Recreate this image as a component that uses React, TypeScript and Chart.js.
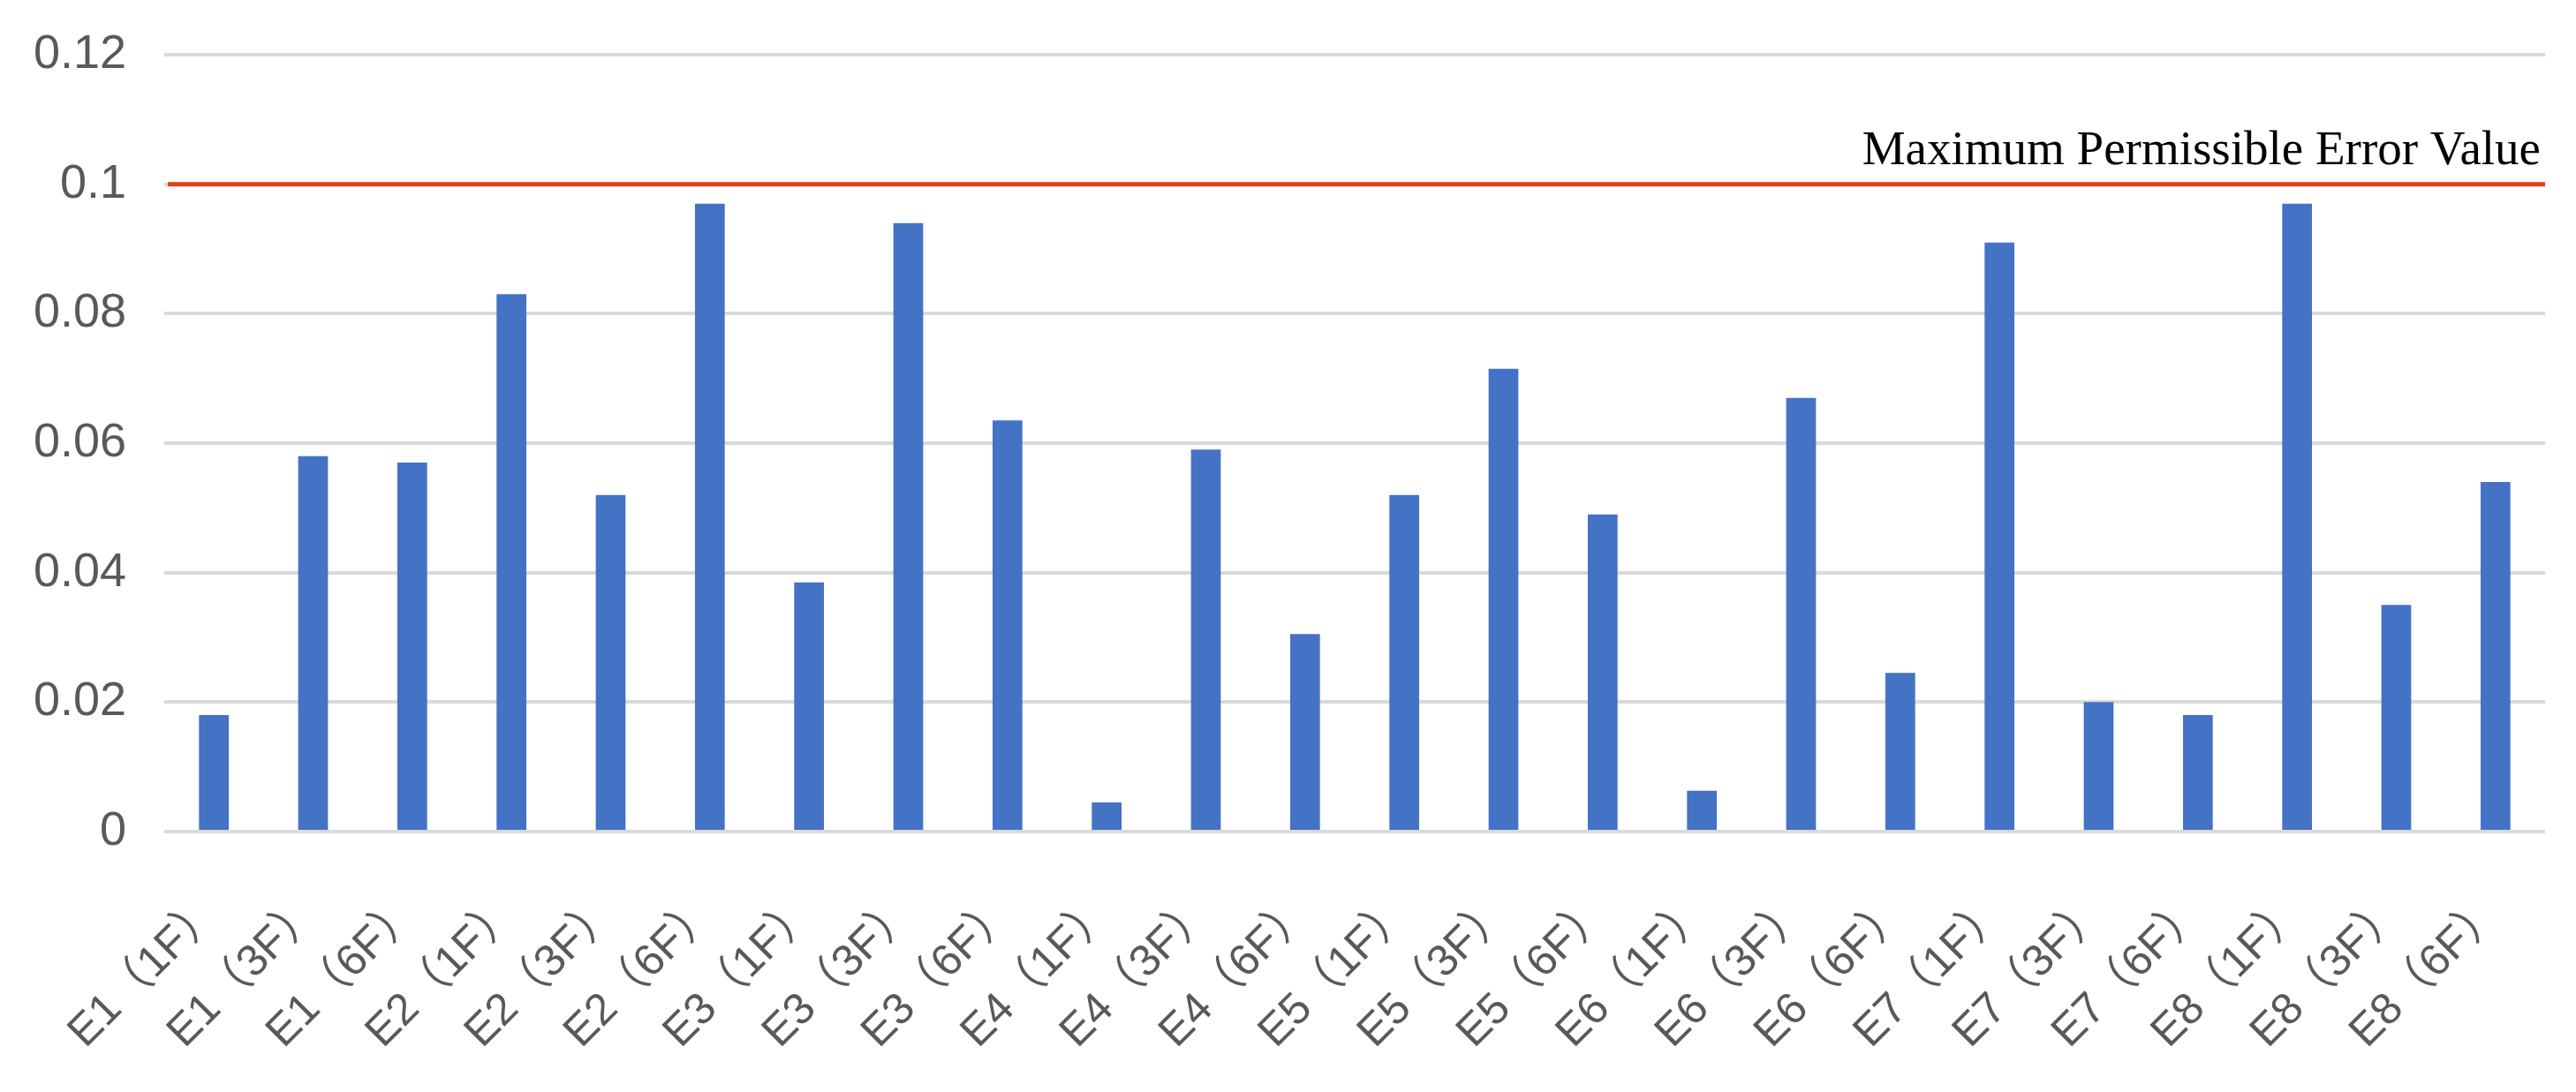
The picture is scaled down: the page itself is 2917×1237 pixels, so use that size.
import React, { useEffect, useRef } from "react";
import { Chart, registerables } from "chart.js";

Chart.register(...registerables);

const categories = [
  "E1（1F）", "E1（3F）", "E1（6F）",
  "E2（1F）", "E2（3F）", "E2（6F）",
  "E3（1F）", "E3（3F）", "E3（6F）",
  "E4（1F）", "E4（3F）", "E4（6F）",
  "E5（1F）", "E5（3F）", "E5（6F）",
  "E6（1F）", "E6（3F）", "E6（6F）",
  "E7（1F）", "E7（3F）", "E7（6F）",
  "E8（1F）", "E8（3F）", "E8（6F）",
];

const errorValues = [
  0.018, 0.058, 0.057,
  0.083, 0.052, 0.097,
  0.0385, 0.094, 0.0635,
  0.0045, 0.059, 0.0305,
  0.052, 0.0715, 0.049,
  0.0063, 0.067, 0.0245,
  0.091, 0.02, 0.018,
  0.097, 0.035, 0.054,
];

const maxPermissibleError = 0.1;
const thresholdLabel = "Maximum Permissible Error Value";
const yMin = 0;
const yMax = 0.12;
const yStep = 0.02;

const thresholdPlugin = {
  id: "thresholdLine",
  afterDatasetsDraw(chart: any) {
    const { ctx, chartArea, scales } = chart;
    const py = scales.y.getPixelForValue(maxPermissibleError);
    ctx.save();
    ctx.strokeStyle = "#DD4411";
    ctx.lineWidth = 5;
    ctx.beginPath();
    ctx.moveTo(chartArea.left + 4, py);
    ctx.lineTo(chartArea.right, py);
    ctx.stroke();
    ctx.font = '55px "Liberation Serif", "Times New Roman", serif';
    ctx.fillStyle = "#000000";
    ctx.textAlign = "right";
    ctx.textBaseline = "alphabetic";
    ctx.fillText(thresholdLabel, chartArea.right - 5, py - 23);
    ctx.restore();
  },
};

export default function App() {
  const canvasRef = useRef<HTMLCanvasElement | null>(null);

  useEffect(() => {
    document.body.style.margin = "0";
    const canvas = canvasRef.current;
    if (!canvas) return;
    const chart = new Chart(canvas, {
      type: "bar",
      data: {
        labels: categories,
        datasets: [
          {
            data: errorValues,
            backgroundColor: "#4472C4",
            borderWidth: 0,
            barPercentage: 0.3,
            categoryPercentage: 1,
          },
        ],
      },
      options: {
        animation: false,
        responsive: false,
        devicePixelRatio: 1,
        layout: { padding: { top: 62, right: 35, left: 0, bottom: 0 } },
        plugins: {
          legend: { display: false },
          tooltip: { enabled: false },
        },
        scales: {
          x: {
            grid: { display: false, drawTicks: false },
            border: { display: false },
            ticks: {
              minRotation: 45,
              maxRotation: 45,
              autoSkip: false,
              padding: 60,
              color: "#595959",
              font: { size: 50, family: '"Liberation Sans", "Noto Sans CJK SC", sans-serif' },
            },
            afterFit(scale: any) {
              scale.height = 295;
              scale.paddingLeft = 0;
              scale.paddingRight = 0;
            },
          },
          y: {
            min: yMin,
            max: yMax,
            grid: { color: "#D9D9D9", lineWidth: 4, drawTicks: false },
            border: { display: false },
            ticks: {
              stepSize: yStep,
              padding: 43,
              color: "#595959",
              font: { size: 54, family: '"Liberation Sans", sans-serif' },
              callback: (v: any) => String(parseFloat(Number(v).toFixed(2))),
            },
            afterFit(scale: any) {
              scale.width = 186;
              scale.paddingTop = 0;
              scale.paddingBottom = 0;
            },
          },
        },
      },
      plugins: [thresholdPlugin],
    });
    return () => chart.destroy();
  }, []);

  return (
    <div style={{ width: 2917, height: 1237, background: "#ffffff" }}>
      <canvas ref={canvasRef} width={2917} height={1237} style={{ display: "block" }} />
    </div>
  );
}
